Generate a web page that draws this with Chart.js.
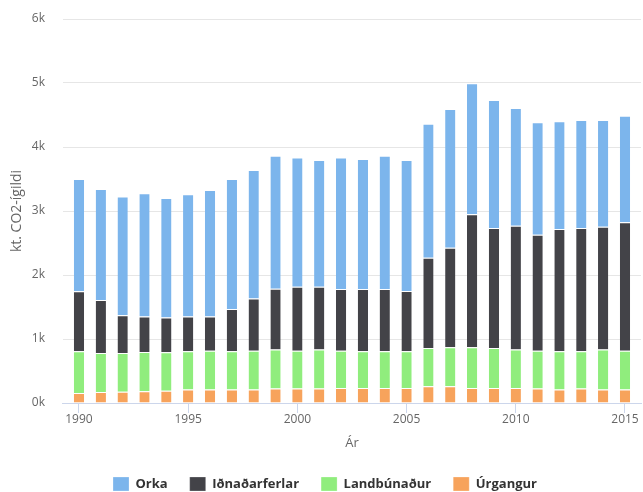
<!DOCTYPE html>
<html>
<head>
<meta charset="utf-8">
<script src="https://cdn.jsdelivr.net/npm/chart.js@4/dist/chart.umd.min.js"></script>
<style>
  html, body { margin: 0; padding: 0; background: #fff; }
  #wrap { width: 643px; height: 492px; position: relative; }
</style>
</head>
<body>
<div id="wrap"><canvas id="c"></canvas></div>
<script>
const years = [1990,1991,1992,1993,1994,1995,1996,1997,1998,1999,2000,2001,2002,2003,2004,2005,2006,2007,2008,2009,2010,2011,2012,2013,2014,2015];
const orka = [1755,1735,1855,1927,1869,1911,1978,2031,2010,2078,2016,1979,2053,2032,2084,2047,2094,2167,2047,2000,1838,1756,1682,1688,1667,1667];
const idnadarferlar = [937,828,589,553,542,542,532,661,813,953,1000,984,963,973,973,942,1412,1557,2078,1875,1937,1812,1911,1926,1921,2005];
const landbunadur = [652,609,606,614,599,599,609,599,609,609,593,609,584,574,574,574,598,609,636,625,600,593,599,583,625,609];
const urgangur = [156,172,175,183,193,209,209,209,209,225,225,225,234,234,234,234,261,261,234,234,234,225,209,225,209,209];
const xTickYears = [1990,1995,2000,2005,2010,2015];
const yTicks = [0,1000,2000,3000,4000,5000,6000];

const FONT = "'Open Sans', 'DejaVu Sans', sans-serif";
function ds(label, data, color) {
  return {
    label, data, backgroundColor: color, borderColor: '#ffffff',
    borderWidth: {top: 1, left: 0, right: 0, bottom: 0},
    borderSkipped: false,
    barPercentage: 0.47, categoryPercentage: 1.0, stack: 's'
  };
}

new Chart(document.getElementById('c'), {
  type: 'bar',
  data: {
    labels: years,
    datasets: [
      ds('Úrgangur', urgangur, '#f7a35c'),
      ds('Landbúnaður', landbunadur, '#90ed7d'),
      ds('Iðnaðarferlar', idnadarferlar, '#434348'),
      ds('Orka', orka, '#7cb5ec')
    ]
  },
  options: {
    responsive: true,
    maintainAspectRatio: false,
    animation: false,
    layout: { padding: { top: 19, right: 2, left: 9, bottom: -9 } },
    plugins: {
      tooltip: { enabled: false },
      legend: {
        position: 'bottom',
        labels: {
          sort: (a, b) => b.datasetIndex - a.datasetIndex,
          boxWidth: 16, boxHeight: 14,
          padding: 22,
          color: '#333333',
          font: { family: FONT, size: 13, weight: 'bold' }
        }
      }
    },
    scales: {
      x: {
        type: 'linear',
        stacked: true,
        min: 1989.267,
        max: 2015.733,
        offset: false,
        afterBuildTicks: s => { s.ticks = xTickYears.map(v => ({ value: v })); },
        ticks: {
          color: '#666666',
          font: { family: FONT, size: 12 },
          padding: -1,
          maxRotation: 0,
          autoSkip: false,
          callback: v => String(v)
        },
        grid: {
          offset: false,
          drawOnChartArea: false,
          drawTicks: true,
          tickLength: 10,
          color: '#ccd6eb'
        },
        border: { display: true, color: '#ccd6eb' },
        title: {
          display: true, text: 'Ár', color: '#666666',
          font: { family: FONT, size: 13 }, padding: { top: 10, bottom: 4 }
        }
      },
      y: {
        stacked: true,
        min: 0, max: 6000,
        afterBuildTicks: s => { s.ticks = yTicks.map(v => ({ value: v })); },
        ticks: {
          color: '#666666',
          font: { family: FONT, size: 12 },
          padding: 4,
          callback: v => (v / 1000) + 'k'
        },
        grid: { color: '#e6e6e6', drawTicks: true, tickLength: 14, tickColor: 'rgba(0,0,0,0)' },
        border: { display: false },
        title: {
          display: true, text: 'kt. CO2-ígildi', color: '#666666',
          font: { family: FONT, size: 14 }, padding: { top: 0, bottom: 2 }
        }
      }
    }
  }
});
</script>
</body>
</html>
